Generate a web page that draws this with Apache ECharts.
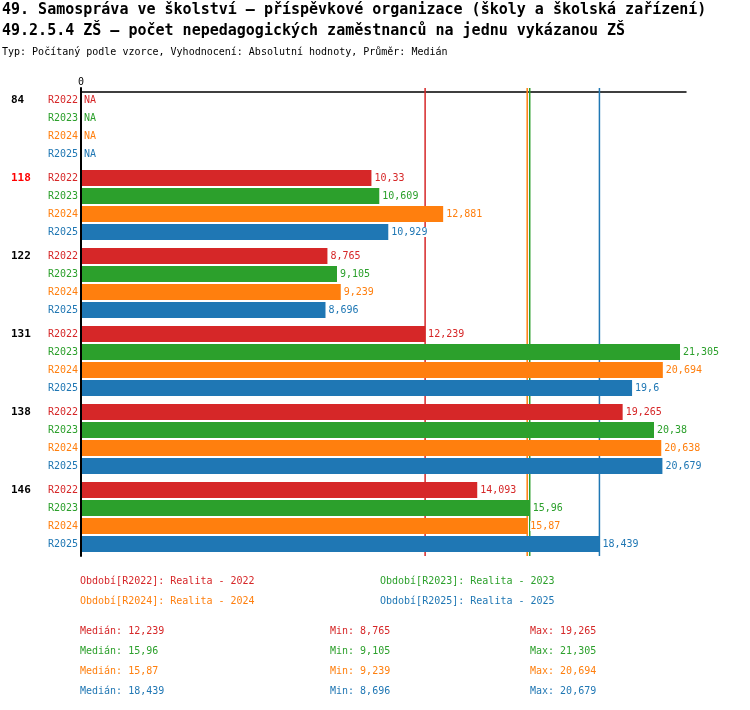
<!DOCTYPE html>
<html>
<head>
<meta charset="utf-8">
<script src="https://cdn.jsdelivr.net/npm/echarts@6/dist/echarts.min.js"></script>
<style>
  html, body { margin: 0; padding: 0; background: #fff; }
  #main { width: 750px; height: 710px; }
</style>
</head>
<body>
<div id="main"></div>
<script>
// data
var categories = ['84', '118', '122', '131', '138', '146'];
var highlight = '118';
var seriesNames = ['R2022', 'R2023', 'R2024', 'R2025'];
var r2022 = [null, 10.33, 8.765, 12.239, 19.265, 14.093];
var r2023 = [null, 10.609, 9.105, 21.305, 20.38, 15.96];
var r2024 = [null, 12.881, 9.239, 20.694, 20.638, 15.87];
var r2025 = [null, 10.929, 8.696, 19.6, 20.679, 18.439];
var values = [r2022, r2023, r2024, r2025];
var colors = ['#d62728', '#2ca02c', '#ff7f0e', '#1f77b4'];

var FONT = 'DejaVu Sans Mono';

function fmt(v) {
    return String(+v.toFixed(3)).replace('.', ',');
}
function stats(arr) {
    var a = arr.filter(function (v) { return v != null; }).sort(function (x, y) { return x - y; });
    var n = a.length;
    var med = n % 2 ? a[(n - 1) / 2] : (a[n / 2 - 1] + a[n / 2]) / 2;
    return { median: med, min: a[0], max: a[n - 1] };
}

var allMax = Math.max.apply(null, values.map(function (a) { return stats(a).max; }));

var myChart = echarts.init(document.getElementById('main'));

var series = [];

// mediány jako svislé čáry pod sloupci (pomocná skrytá osa 0..1)
seriesNames.forEach(function (n, i) {
    var m = stats(values[i]).median;
    series.push({
        name: 'Medián ' + n,
        type: 'line',
        yAxisIndex: 1,
        z: 1,
        symbol: 'none',
        silent: true,
        clip: false,
        color: colors[i],
        lineStyle: { color: colors[i], width: 1.5 },
        data: [[m, 0], [m, 1]]
    });
});

seriesNames.forEach(function (name, i) {
    series.push({
        name: name,
        type: 'bar',
        z: 3,
        barWidth: 16,
        barGap: '12.5%',
        itemStyle: { color: colors[i] },
        data: values[i].map(function (v) {
            return v == null ? { value: 0, na: true } : v;
        }),
        label: {
            show: true,
            position: 'right',
            distance: 3,
            color: colors[i],
            backgroundColor: '#fff',
            fontFamily: FONT,
            fontSize: 10,
            formatter: function (p) {
                return (p.data && p.data.na) ? 'NA' : fmt(p.value);
            }
        }
    });
});

// spodní souhrn: medián, min, max
var statTexts = [];
seriesNames.forEach(function (name, i) {
    var st = stats(values[i]);
    var y = 631 + 20 * i;
    [['Medián: ' + fmt(st.median), 80], ['Min: ' + fmt(st.min), 330], ['Max: ' + fmt(st.max), 530]].forEach(function (t) {
        statTexts.push({
            type: 'text',
            x: t[1],
            y: y,
            style: {
                text: t[0],
                fill: colors[i],
                font: '10px "' + FONT + '"',
                verticalAlign: 'middle'
            }
        });
    });
});

var rich = {
    g: { width: 37, align: 'left', fontWeight: 'bold', fontSize: 11, color: '#000', lineHeight: 18, fontFamily: FONT },
    h: { width: 37, align: 'left', fontWeight: 'bold', fontSize: 11, color: '#ff0000', lineHeight: 18, fontFamily: FONT }
};
seriesNames.forEach(function (n, i) {
    rich['r' + i] = { align: 'right', fontSize: 10, color: colors[i], lineHeight: 18, fontFamily: FONT };
});

function legendOf(names, left) {
    return {
        left: left,
        top: 571,
        orient: 'vertical',
        icon: 'none',
        itemWidth: 0,
        itemHeight: 10,
        itemGap: 10,
        selectedMode: false,
        textStyle: { fontFamily: FONT, fontSize: 10 },
        formatter: function (name) {
            return 'Období[' + name + ']: Realita - ' + name.slice(1);
        },
        data: names.map(function (n) {
            return { name: n, textStyle: { color: colors[seriesNames.indexOf(n)] } };
        })
    };
}

myChart.setOption({
    animation: false,
    title: {
        text: '49. Samospráva ve školství – příspěvkové organizace (školy a školská zařízení)\n' +
              '49.2.5.4 ZŠ – počet nepedagogických zaměstnanců na jednu vykázanou ZŠ',
        subtext: 'Typ: Počítaný podle vzorce, Vyhodnocení: Absolutní hodnoty, Průměr: Medián',
        left: 2,
        top: 0,
        padding: 0,
        itemGap: 4,
        textStyle: { fontFamily: FONT, fontSize: 15, fontWeight: 'bold', color: '#000', lineHeight: 21 },
        subtextStyle: { fontFamily: FONT, fontSize: 10, color: '#000', lineHeight: 12 }
    },
    legend: [
        legendOf(['R2022', 'R2024'], 70),
        legendOf(['R2023', 'R2025'], 370)
    ],
    grid: { left: 81, right: 64, top: 88, height: 468 },
    xAxis: {
        type: 'value',
        position: 'top',
        offset: -4,
        min: 0,
        max: allMax * 1.01,
        axisLine: { show: true, onZero: false, lineStyle: { color: '#000', width: 1.5 } },
        axisTick: { show: false },
        splitLine: { show: false },
        axisLabel: {
            margin: 5,
            fontFamily: FONT,
            fontSize: 10,
            color: '#000',
            formatter: function (v) { return v === 0 ? '0' : ''; }
        }
    },
    yAxis: [{
        type: 'category',
        inverse: true,
        data: categories,
        z: 4,
        axisLine: { show: true, onZero: false, lineStyle: { color: '#000', width: 2 } },
        axisTick: { show: false },
        axisLabel: {
            margin: 3,
            formatter: function (v) {
                var lines = seriesNames.map(function (n, i) { return '{r' + i + '|' + n + '}'; });
                lines[0] = '{' + (v === highlight ? 'h' : 'g') + '|' + v + '}' + lines[0];
                return lines.join('\n');
            },
            rich: rich
        }
    }, {
        type: 'value',
        min: 0,
        max: 1,
        show: false
    }],
    series: series,
    graphic: statTexts
});
</script>
</body>
</html>
